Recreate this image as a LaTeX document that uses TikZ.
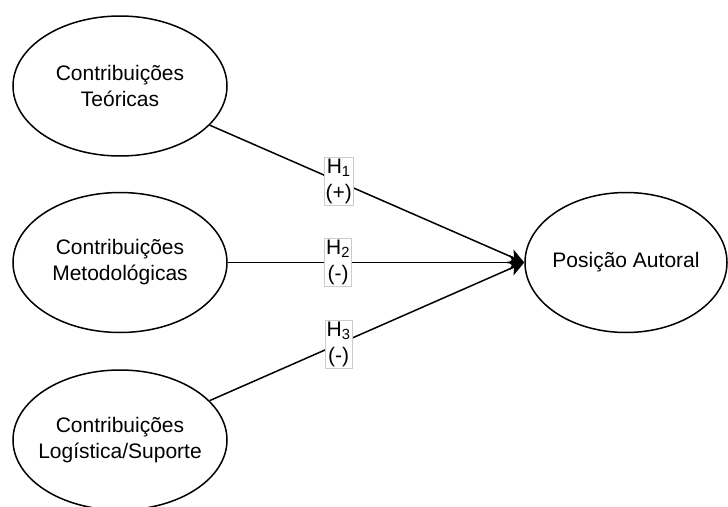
\documentclass[tikz,border=0pt]{standalone}
\usepackage{fontspec}
\setmainfont{Liberation Sans}
\usetikzlibrary{shapes.geometric,arrows.meta}
\begin{document}
\begin{tikzpicture}[x=1pt,y=-1pt,
  construct/.style={ellipse,draw,line width=1.5pt,minimum width=214pt,minimum height=140pt,
    inner sep=-30pt,align=center,font=\fontsize{21}{26}\selectfont},
  hyp/.style={fill=white,draw=black!20,line width=0.8pt,inner sep=1.5pt,align=center,
    font=\fontsize{21}{26}\selectfont},
  path/.style={line width=1.5pt,-{Stealth[length=15pt,width=15pt,inset=4pt]}}]
  \useasboundingbox (0,0) rectangle (728,506);

  % constructs
  \node[construct] (teo) at (120,86) {Contribuições\\Teóricas};
  \node[construct] (met) at (120,262.5) {Contribuições\\Metodológicas};
  \node[construct] (log) at (120,440) {Contribuições\\Logística/Suporte};
  \node[construct,minimum width=202pt] (pos) at (626,262.5) {Posição Autoral};

  % hypothesised paths
  \draw[path] (teo) -- node[hyp,pos=0.41] (h1) {H\textsubscript{1}\\(+)} (pos.west);
  \draw[path] (met) -- node[hyp,pos=0.372] (h2) {H\textsubscript{2}\\(-)} (pos.west);
  \draw[path] (log) -- node[hyp,pos=0.41] (h3) {H\textsubscript{3}\\(-)} (pos.west);
\end{tikzpicture}
\end{document}
